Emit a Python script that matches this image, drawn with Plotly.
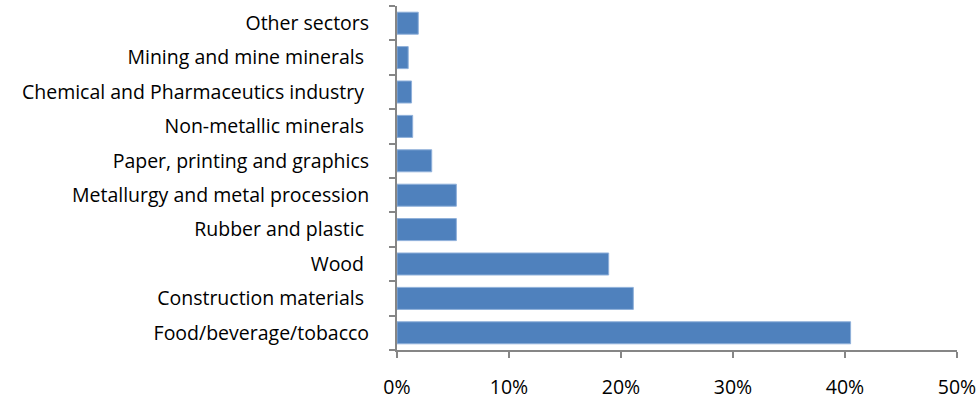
import plotly.graph_objects as go

categories = [
    "Food/beverage/tobacco",
    "Construction materials\u00a0",
    "Wood\u00a0",
    "Rubber and plastic\u00a0",
    "Metallurgy and metal procession",
    "Paper, printing and graphics",
    "Non-metallic minerals\u00a0",
    "Chemical and Pharmaceutics industry\u00a0",
    "Mining and mine minerals\u00a0",
    "Other sectors",
]
shares = [0.405, 0.211, 0.189, 0.053, 0.053, 0.031, 0.014, 0.013, 0.010, 0.019]
x_ticks = [0, 0.1, 0.2, 0.3, 0.4, 0.5]

fig = go.Figure(go.Bar(
    x=shares, y=categories, orientation="h",
    marker=dict(color="#4F81BD", line=dict(color="#8FB0DA", width=1)),
    width=0.64,
))

axis_col = "#868686"
fig.update_layout(
    width=977, height=399,
    margin=dict(l=397, r=20, t=6, b=49),
    paper_bgcolor="white", plot_bgcolor="white",
    font=dict(family="Open Sans", size=19.5, color="#000000"),
    showlegend=False,
    xaxis=dict(range=[0, 0.5], tickvals=x_ticks, tickformat=".0%", automargin=False,
               showgrid=False, zeroline=False, showline=True, linecolor=axis_col,
               linewidth=2, ticks="outside", ticklen=6, tickcolor=axis_col, tickwidth=2,
               ticklabelstandoff=13),
    yaxis=dict(type="category", categoryorder="array", categoryarray=categories,
               range=[-0.5, 9.5], tickson="boundaries", automargin=False,
               showgrid=False, zeroline=False, showline=True, linecolor=axis_col,
               linewidth=2, ticks="outside", ticklen=6, tickcolor=axis_col, tickwidth=2,
               ticklabelstandoff=22),
)
fig.write_html("out.html")
